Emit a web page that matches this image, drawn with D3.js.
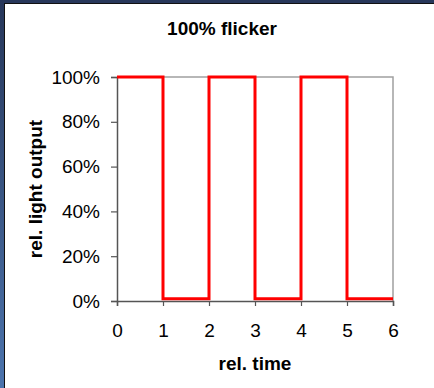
<!DOCTYPE html>
<html><head><meta charset="utf-8">
<script src="https://cdn.jsdelivr.net/npm/d3@7"></script>
<style>body{margin:0;background:#fff}svg{display:block}text{font-family:Arial,"Liberation Sans",sans-serif}</style>
</head><body><svg id="c" width="434" height="388"></svg>
<script>
const times = [0,1,1,2,2,3,3,4,4,5,5,6];
const output = [1,1,0.01,0.01,1,1,0.01,0.01,1,1,0.01,0.01];
const xTicks = [0,1,2,3,4,5,6];
const yTicks = [0,0.2,0.4,0.6,0.8,1];
const title = "100% flicker";
const xTitle = "rel. time";
const yTitle = "rel. light output";

const svg = d3.select("#c");
const defs = svg.append("defs");
const g = defs.append("linearGradient").attr("id","lg").attr("x1",0).attr("y1",0).attr("x2",0).attr("y2",1);
g.append("stop").attr("offset","0%").attr("stop-color","#27375a");
g.append("stop").attr("offset","100%").attr("stop-color","#4c74ad");
svg.append("rect").attr("x",0).attr("y",0).attr("width",434).attr("height",388).attr("fill","#fff");
svg.append("rect").attr("x",0).attr("y",0).attr("width",434).attr("height",3).attr("fill","#27375a");
svg.append("rect").attr("x",0).attr("y",0).attr("width",4).attr("height",388).attr("fill","url(#lg)");
svg.append("line").attr("x1",4.5).attr("x2",4.5).attr("y1",3).attr("y2",388).attr("stroke","#111");
svg.append("line").attr("x1",4).attr("x2",434).attr("y1",3.5).attr("y2",3.5).attr("stroke","#111");

const x = d3.scaleLinear().domain([0,6]).range([117,393]);
const y = d3.scaleLinear().domain([0,1]).range([301,77]);

svg.append("path").attr("d",`M${x(0)},${y(1)}H${x(6)}V${y(0)}`).attr("fill","none").attr("stroke","#a0a0a0").attr("stroke-width",1.5);

const xa = svg.append("g").attr("transform",`translate(0,${y(0)})`)
  .call(d3.axisBottom(x).tickValues(xTicks).tickSize(5).tickPadding(18).tickFormat(d3.format("d")));
const ya = svg.append("g").attr("transform",`translate(${x(0)},0)`)
  .call(d3.axisLeft(y).tickValues(yTicks).tickSize(6).tickPadding(11).tickFormat(d3.format(".0%")));
[xa,ya].forEach(a=>{
  a.select(".domain").attr("stroke","#555").attr("stroke-width",1.5);
  a.selectAll(".tick line").attr("stroke","#555").attr("stroke-width",1.2);
  a.selectAll("text").attr("font-size","19px").attr("fill","#000").attr("font-family","Arial, 'Liberation Sans', sans-serif");
});

const line = d3.line().x((d,i)=>x(times[i])).y(d=>y(d));
svg.append("path").datum(output).attr("d",line).attr("fill","none").attr("stroke","#ff0000").attr("stroke-width",3);

svg.append("text").attr("x",222).attr("y",34.5).attr("text-anchor","middle").attr("font-weight","bold").attr("font-size","19px").text(title);
svg.append("text").attr("x",255).attr("y",370).attr("text-anchor","middle").attr("font-weight","bold").attr("font-size","19px").text(xTitle);
svg.append("text").attr("transform",`translate(42,189) rotate(-90)`).attr("text-anchor","middle").attr("font-weight","bold").attr("font-size","19px").text(yTitle);
</script></body></html>
